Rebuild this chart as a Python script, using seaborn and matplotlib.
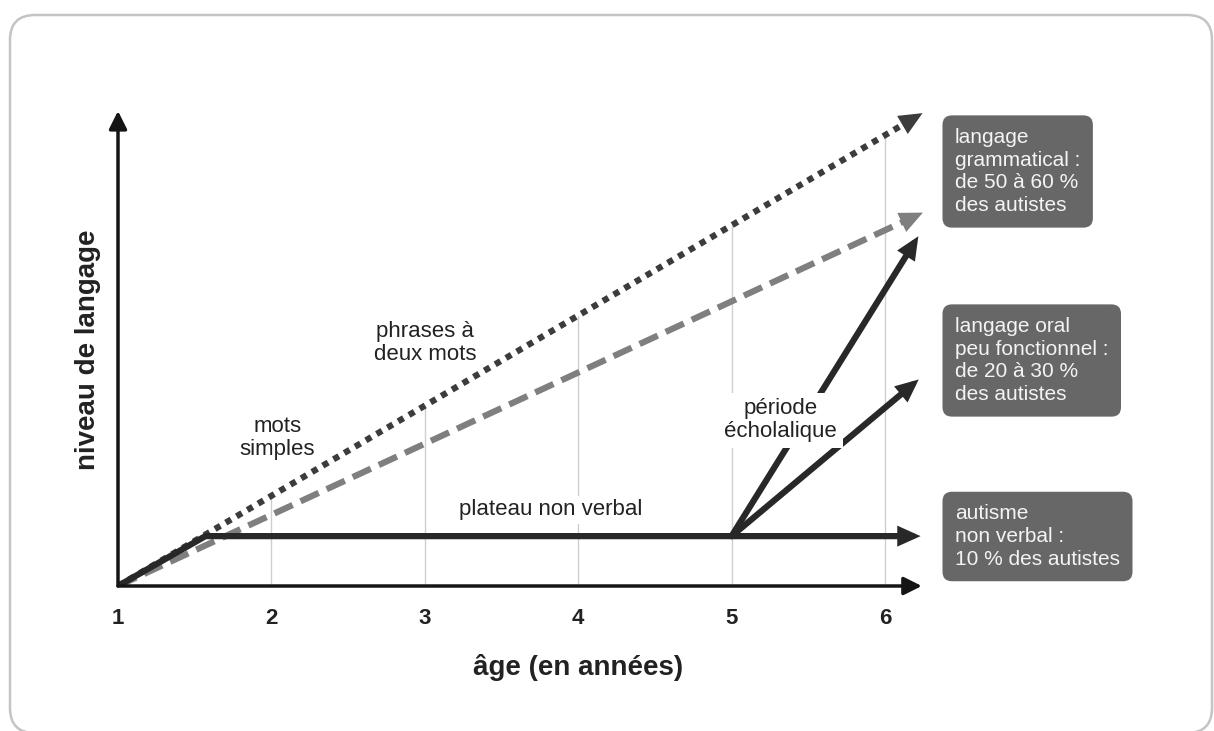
import numpy as np
import matplotlib.pyplot as plt
from matplotlib.patches import FancyBboxPatch
from matplotlib.transforms import offset_copy
import seaborn as sns

# valeurs (âge en années, niveau de langage en unités arbitraires)
age_pointille = [1.0, 6.2]
niveau_pointille = [0.0, 9.87]

age_tirets = [1.0, 6.2]
niveau_tirets = [0.0, 7.79]

age_plateau = [1.0, 1.57, 6.18]
niveau_plateau = [0.0, 1.05, 1.05]

age_branche_haut = [5.0, 6.19]
niveau_branche_haut = [1.05, 7.22]

age_branche_bas = [5.0, 6.18]
niveau_branche_bas = [1.05, 4.24]

ages = [1, 2, 3, 4, 5, 6]

textes_encadres = [
    "langage\ngrammatical :\nde 50 à 60 %\ndes autistes",
    "langage oral\npeu fonctionnel :\nde 20 à 30 %\ndes autistes",
    "autisme\nnon verbal :\n10 % des autistes",
]

sns.set_style("white")
plt.rcParams['font.family'] = ['Liberation Sans', 'DejaVu Sans']

fig = plt.figure(figsize=(12.14, 7.31), dpi=100)
ax = fig.add_axes([118 / 1214, (731 - 586) / 731, 813 / 1214, 494 / 731])
ax.set_xlim(1, 6.3)
ax.set_ylim(0, 10.4)
ax.patch.set_alpha(0)
for s in ax.spines.values():
    s.set_visible(False)

# lignes verticales grises jusqu'à la ligne pointillée
for a in ages[1:]:
    haut = np.interp(a, age_pointille, niveau_pointille)
    ax.plot([a, a], [0, haut], color="#cfcfcf", lw=1, zorder=1)

fonce = "#282828"
gris = "#7f7f7f"
pointille = "#3c3c3c"


def tete(xs, ys, couleur, taille=28):
    # pointe de flèche posée au bout du trait (un peu au-delà pour couvrir l'extrémité)
    p0 = ax.transData.transform((xs[-2], ys[-2]))
    p1 = ax.transData.transform((xs[-1], ys[-1]))
    u = (p1 - p0) / np.hypot(*(p1 - p0))
    tr = offset_copy(ax.transData, fig=fig, x=u[0] * 8, y=u[1] * 8, units="dots")
    ax.annotate("", xy=(xs[-1], ys[-1]), xycoords=tr,
                xytext=(xs[-2], ys[-2]), textcoords="data",
                arrowprops=dict(arrowstyle="-|>,head_length=0.6,head_width=0.27",
                                lw=0, color=couleur, shrinkA=0, shrinkB=0,
                                mutation_scale=taille), zorder=5)


sns.lineplot(x=age_pointille, y=niveau_pointille, ax=ax, color=pointille, lw=4.5,
             linestyle=(0, (1, 1)), estimator=None, sort=False, zorder=3)
tete(age_pointille, niveau_pointille, pointille)

sns.lineplot(x=age_tirets, y=niveau_tirets, ax=ax, color=gris, lw=4.5,
             linestyle=(0, (3.2, 1.4)), estimator=None, sort=False, zorder=3)
tete(age_tirets, niveau_tirets, gris)

sns.lineplot(x=age_plateau, y=niveau_plateau, ax=ax, color=fonce, lw=4.5,
             estimator=None, sort=False, zorder=4)
tete(age_plateau, niveau_plateau, fonce)

sns.lineplot(x=age_branche_haut, y=niveau_branche_haut, ax=ax, color=fonce, lw=4.5,
             estimator=None, sort=False, zorder=4)
tete(age_branche_haut, niveau_branche_haut, fonce)

sns.lineplot(x=age_branche_bas, y=niveau_branche_bas, ax=ax, color=fonce, lw=4.5,
             estimator=None, sort=False, zorder=4)
tete(age_branche_bas, niveau_branche_bas, fonce)

# axes avec flèches
fl_axe = dict(arrowstyle="-|>,head_length=0.6,head_width=0.3", lw=2.5,
              color="#151515", shrinkA=0, shrinkB=0, mutation_scale=18)
ax.annotate("", xy=(6.24, 0), xytext=(1, 0), arrowprops=fl_axe, zorder=6)
ax.annotate("", xy=(1, 10.0), xytext=(1, 0), arrowprops=fl_axe, zorder=6)

ax.set_xticks(ages)
ax.set_xticklabels([str(a) for a in ages], fontsize=16, fontweight="bold", color="#222222")
ax.tick_params(axis="x", length=0, pad=16)
ax.set_yticks([])

ax.set_xlabel("âge (en années)", fontsize=20, fontweight="bold", color="#222222", va="center")
ax.xaxis.set_label_coords(0.566, -0.164)
ax.set_ylabel("niveau de langage", fontsize=20, fontweight="bold", color="#222222", va="center")
ax.yaxis.set_label_coords(-0.037, 0.478)

# annotations dans le graphique
kw = dict(fontsize=16, color="#222222", ha="center", va="center", linespacing=1.1)
ax.text(2.04, 3.12, "mots\nsimples", **kw)
ax.text(3.0, 5.12, "phrases à\ndeux mots", **kw)
ax.text(3.82, 1.6, "plateau non verbal", zorder=7,
        bbox=dict(boxstyle="square,pad=0.15", fc="white", ec="none"), **kw)
ax.text(5.32, 3.49, "période\nécholalique", zorder=7,
        bbox=dict(boxstyle="square,pad=0.25", fc="white", ec="none"), **kw)

# encadrés gris à droite
centres_y = [171.5, 360.5, 536.5]
for txt, cy in zip(textes_encadres, centres_y):
    fig.text(955 / 1214, 1 - cy / 731, txt, fontsize=15, color="#f4f4f4",
             ha="left", va="center", linespacing=1.25,
             bbox=dict(boxstyle="round,pad=0.6,rounding_size=0.45", fc="#676767", ec="none"))

# cadre arrondi autour de la figure
cadre = FancyBboxPatch((0.10, -0.02), 12.02, 7.18, boxstyle="round,pad=0,rounding_size=0.25",
                       transform=fig.dpi_scale_trans, fc="none", ec="#c4c4c4", lw=1.8)
fig.add_artist(cadre)

fig.savefig("out.png", dpi=100)
